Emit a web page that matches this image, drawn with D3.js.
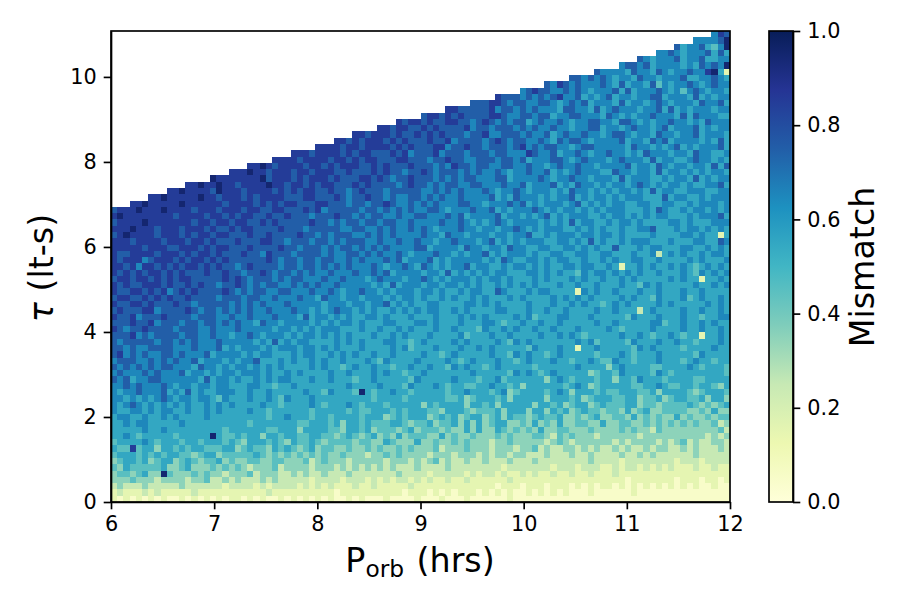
<!DOCTYPE html>
<html><head><meta charset="utf-8">
<script src="https://cdn.jsdelivr.net/npm/d3@7"></script>
<style>html,body{margin:0;padding:0;background:#fff}svg{display:block}text{font-family:"DejaVu Sans",sans-serif;fill:#000}</style>
</head><body><svg id="c" width="913" height="609"></svg>
<script>
const xTicks=[6,7,8,9,10,11,12];
const yTicks=[0,2,4,6,8,10];
const cbTicks=[0,0.2,0.4,0.6,0.8,1.0];
const porbRange=[6,12];
const tauMax=11.08;
const nCols=100;
const cmap=["#ffffd9","#edf8b1","#c7e9b4","#7fcdbb","#41b6c4","#1d91c0","#225ea8","#253494","#081d58"];
// mismatch per cell, one digit per tenth (0 = 0.0-0.1 ... 9 = 0.9-1.0); top row first, right-aligned
const mismatchRows=[
"687",
"666679",
"756675469",
"66 7656667575",
"76566 6756675566",
"67767566 6656576769",
"76 6665766576 5667668951",
"776767 6566576656 6675566765",
"7687676667 6575665746 5667656766",
"6787 7667676566 6757566676 5646765665",
"87776767 6786675656 7566566775 6665756566",
"77 7887677667 7656767566 6575665676 5666576675",
"887777 7867767676 6657766575 6766656675 7565666566",
"7887878777 7887667767 7566776665 7656566766 6575766655",
"8788 7877887767 8767677567 6676566776 6577656566 7665657666",
"8878877 8787777867 7677767676 6766566775 6656766567 5666756566",
"8 8788878778 7878777677 8667776766 7567667665 6776566576 6566756665",
"8878 7888787877 7877867777 6787677667 6576776566 6675665767 5666656575",
"8888788 7888878787 7788677877 6777678676 7766567766 6665766565 6756566675",
"8 8878888787 8877787867 7786777677 7677666876 6756676566 7665657666 5665766556",
"8888 7888878878 7887778877 7677877667 7767767566 6776567666 5676665756 6556766565",
"88987888 8788787888 7787877787 7767687767 7667766766 5676676656 6667566576 5665665757",
"8 8898878887 8878887787 7787877677 8767776767 6676566766 7565676665 5766566575 6656565665",
"9888 8888978887 8788878777 8878767787 7767676776 6677566667 6566766566 6575666556 5665756566",
"88988988 7888898878 8787887778 7877776787 7676776677 6667667566 6756576656 5665676565 6656556675",
"8 8988887988 8788887878 7887787767 8777677777 6676767666 7656676566 6565766565 6566565756 6556665566",
"8898 8888988788 8787888877 7887778767 7877676677 6767667666 6756576665 6566756566 5656665557 5665565666",
"8898888 8988888878 8887878788 7778877767 7677876676 7676667766 5666767565 6665675656 5665566556 6556566656",
"7888988898 8887888788 8788778877 7878677777 6776767676 6776566676 6756566676 5656656565 6665556576 5565665656",
"8988888888 7888878878 7887787787 7767778776 7677667667 7666767566 6675665656 7565666556 5665656566 5556566675",
"7888898888 8887887887 8877878777 7787767677 6776776676 6667667656 5676566665 6565756655 6566565555 6656555666",
"8889888788 8788878778 7887777877 7677777667 7667676676 7656667665 6656676565 6665565656 5565566755 5656656565",
"7898888788 8787887887 7787787777 8776767776 6767676666 7665766566 6566566755 6566656656 6565555655 5566565515",
"8887888878 8878878777 8777887767 7767767677 7667667667 6656676665 6756565666 5566565756 5565666555 6555665576",
"8888878887 7888787887 7787777877 6777676776 7676766667 7566665766 5665766556 6556656565 5755565665 5566556565",
"8778888788 8787887877 7877687776 7777676677 6767667656 6676656566 7565666565 5665566556 6555655625 6565565665",
"8788867888 7878878787 7777787677 6776776676 7666767566 6756566666 5657655665 6566556556 5655665565 5556565556",
"8878688787 8788787877 6787777677 6776767676 6676566765 7656566756 6556566565 6556656655 6515565655 6565456565",
"8787878878 7877787787 7677876776 7676676667 6676756666 5665756565 6566555665 6565546566 5656565565 5565465656",
"7887887878 7887777787 8767776767 7666766766 6567666566 7656566656 5665655565 6555656556 5565655555 6565515565",
"8787788878 7787877677 8767677667 6767667666 6656575666 5665665656 5565656565 5565565565 5565546565 5555655656",
"8778878786 7878777787 6767766776 6676676566 7665656665 6656556566 5576555656 6555516565 5655565565 5565565555",
"7887787878 7787777677 7677667666 7665766566 5666565665 6556565565 6555656555 5656565655 5565655465 5564565565",
"8778878777 8776777776 7676766676 6666566656 6566756565 5665555665 6565555655 5655656554 5656555565 6555556565",
"7877788677 7787677676 7676676667 6656567665 6565565656 5665565655 5566555655 6556555565 5655525655 5565565565",
"8778677787 7776777667 6676667666 5756656565 5665655565 5565556565 6555565645 5566555655 5554655565 5565545566",
"7778778677 7677677676 7665766566 6656565665 6555665556 6565556555 6654556556 5565555565 5655555664 5565565655",
"8767787777 6777667666 7666665665 6565666555 6556556565 5565565554 6556565565 5655565555 6545555655 5565565565",
"7778676777 7677667665 6676566656 5665656565 5565565655 5655556455 5655655556 5565654555 5565565455 6545515565",
"7677777677 6767666766 6665657565 6655556565 6555665545 6555565655 5565465655 5555565645 5554655565 5655455565",
"7767667777 6667666756 5666565666 5665656555 6555565645 5565556556 5655555465 5565515565 5555465655 5545555655",
"7867676677 6766675666 6565665556 5665565656 5565565555 6554565555 5655465655 4565555545 5565455565 5555465555",
"6777667676 7667566656 5667555656 5565655655 5654655556 5555654565 5565545655 5655455654 4655455565 5545655455",
"7676767677 6665766565 6656565655 5565655456 5565545565 5655465655 4565555545 5555565555 3565555445 5556545554",
"6766676766 6756656566 5666565565 6555565565 5565655455 6555555565 5555465654 5655555345 5465555465 4555555554",
"7675667766 6666575665 6556565665 5565565554 5565555546 5555565554 5564555555 3565455545 5355465554 5555445555",
"6676766676 5665665665 5566554556 5555555565 5556555465 5565455445 5655453555 5554565345 5555445565 4455455435",
"6566766675 6575655666 5565565555 5655465554 9545565545 5555455655 5456345555 4565355545 4455544535 5554345554",
"6656565676 5665665465 5565565465 5565555555 5545555455 5555445345 5545355555 3555453455 5445534453 4554453553",
"6567656565 6565565656 5555655455 5565455565 4555455555 3545555355 4535555535 5453455345 4445534434 4445434345",
"6556656566 5565565655 5565545555 5545555545 4455545455 5443555434 4453555355 3545345443 4435345334 4443343533",
"5665565565 6555565555 5555545565 5545545555 4555345455 5345453455 3453544345 4453343453 3443534343 3534334344",
"5565665555 5655555555 5545555555 4455545355 4544455434 4534453535 3455334353 4353344335 3344334343 4343433423",
"5555565565 5555555545 5555544555 3555544355 4534443453 4443433535 3354343435 3344333433 3343433243 3333333342",
"5565455555 4555559544 5455355455 4455443454 3453435344 4335343343 3343433344 3243433323 3333323333 3333332323",
"4555565455 5455455545 4355545435 4454344443 4433543335 3343343433 3233433333 2343233333 3232333323 2342322332",
"5448455355 4545544455 3454435454 3453443343 3434334343 3342333433 3233323342 3223323232 2323223233 2232322232",
"4555454545 5443455344 4445434343 4343433433 3233434333 3233323332 3233233222 3222322322 2232232322 2222322222",
"3455453455 3454344534 3344334433 3423433323 3333233323 2342322322 3222322232 2222222322 2212222222 2122212222",
"4354444453 3453334343 4323334233 3323332323 2323232223 2222322222 2221222222 2122212221 1212212121 2111211211",
"3443453394 3334343323 3342333223 2322322232 2222223222 2122222121 2212112121 1211211211 1211111111 1111111111",
"3334333233 3323342232 3222323222 2212222122 2121212212 1211211211 1111211111 1111111111 1110111111 1011101101",
"2322232222 2322222212 2221212222 1212121112 1121111121 1111111111 1101110111 0111010101 1010101010 1010100100",
"1211121211 1112111111 1111121111 1111110111 1111111011 1010101110 1010100101 0101000100 0000100000 0000000000",
"1010101010 0101010101 1010100101 0101010010 1000100001 0001000100 0000100000 0000000000 0000000000 0000000000"
];

const L=111,R=730,T=31,B=502,CL=769,CR=793;
const svg=d3.select("#c");
const x=d3.scaleLinear().domain(porbRange).range([L,R]);
const y=d3.scaleLinear().domain([0,tauMax]).range([B,T]);
const color=d3.scaleLinear().domain(cmap.map((_,i)=>i/(cmap.length-1))).range(cmap);
const nRows=mismatchRows.length, dP=(porbRange[1]-porbRange[0])/nCols, dT=tauMax/nRows;

const cells=[];
mismatchRows.forEach((s,i)=>{
  const d=s.replace(/ /g,""), r=nRows-1-i, start=nCols-d.length;
  for(let k=0;k<d.length;k++) cells.push({c:start+k,r,v:(+d[k]+0.5)/10});
});
svg.append("g").selectAll("rect").data(cells).join("rect")
  .attr("x",d=>x(porbRange[0]+d.c*dP))
  .attr("y",d=>y((d.r+1)*dT))
  .attr("width",d=>x(porbRange[0]+(d.c+1)*dP)-x(porbRange[0]+d.c*dP))
  .attr("height",d=>y(d.r*dT)-y((d.r+1)*dT))
  .attr("fill",d=>color(d.v))
  .attr("shape-rendering","crispEdges");

function style(g){
  g.selectAll("text").style("font-size","20.8px").style("font-family",'"DejaVu Sans"').attr("fill","#000");
  g.selectAll("line").attr("stroke","#000").attr("stroke-width",1.67);
  g.select(".domain").attr("stroke","#000").attr("stroke-width",1.67);
}
svg.append("g").attr("transform",`translate(0,${B})`)
  .call(d3.axisBottom(x).tickValues(xTicks).tickFormat(d3.format("d")).tickSize(7.3).tickPadding(7).tickSizeOuter(0)).call(style);
svg.append("g").attr("transform",`translate(${L},0)`)
  .call(d3.axisLeft(y).tickValues(yTicks).tickFormat(d3.format("d")).tickSize(7.3).tickPadding(7).tickSizeOuter(0)).call(style);
svg.append("rect").attr("x",L).attr("y",T).attr("width",R-L).attr("height",B-T)
  .attr("fill","none").attr("stroke","#000").attr("stroke-width",1.67);

// colorbar
const defs=svg.append("defs");
const grad=defs.append("linearGradient").attr("id","cb").attr("x1",0).attr("x2",0).attr("y1",1).attr("y2",0);
cmap.forEach((c,i)=>grad.append("stop").attr("offset",i/(cmap.length-1)).attr("stop-color",c));
svg.append("rect").attr("x",CL).attr("y",T).attr("width",CR-CL).attr("height",B-T).attr("fill","url(#cb)");
const cy=d3.scaleLinear().domain([0,1]).range([B,T]);
svg.append("g").attr("transform",`translate(${CR},0)`)
  .call(d3.axisRight(cy).tickValues(cbTicks).tickFormat(d3.format(".1f")).tickSize(7.3).tickPadding(7).tickSizeOuter(0)).call(style);
svg.append("rect").attr("x",CL).attr("y",T).attr("width",CR-CL).attr("height",B-T)
  .attr("fill","none").attr("stroke","#000").attr("stroke-width",1.67);

// labels
const xl=svg.append("text").attr("x",420).attr("y",572).attr("text-anchor","middle").style("font-size","33.3px");
xl.append("tspan").text("P");
xl.append("tspan").attr("dy",5).style("font-size","23.3px").text("orb");
xl.append("tspan").attr("dy",-5).attr("dx",2).text(" (hrs)");
const yl=svg.append("text").attr("transform","translate(53,268) rotate(-90)").attr("text-anchor","middle").style("font-size","33.3px");
yl.append("tspan").style("font-style","italic").text("τ");
yl.append("tspan").text(" (lt-s)");
svg.append("text").attr("transform","translate(874,267) rotate(-90)").attr("text-anchor","middle").style("font-size","33.3px").text("Mismatch");
</script></body></html>
